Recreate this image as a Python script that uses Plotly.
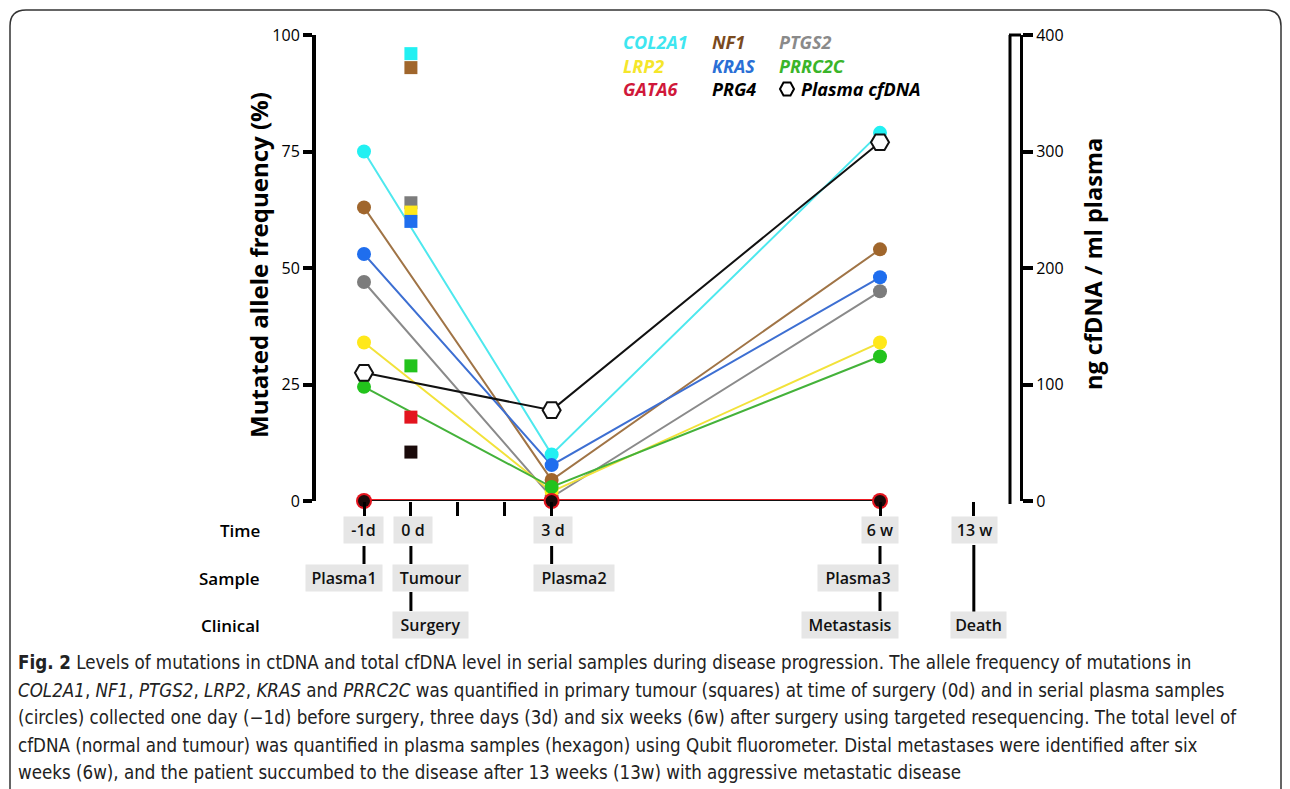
import plotly.graph_objects as go

W, H = 1290, 789

# ---------------- data ----------------
genes = ["COL2A1", "NF1", "PTGS2", "LRP2", "KRAS", "PRRC2C", "GATA6", "PRG4"]
marker_colors = ["#22f0f2", "#a0662c", "#7c7c7c", "#ffe81a", "#1f6eee", "#22c31c", "#e3141e", "#1a0a0a"]
line_colors = ["#4ee8ee", "#a07446", "#8a8a8a", "#f2e23a", "#3d6fd2", "#44b23a", "#ee1c24", "#111111"]
text_colors = ["#3ee6f0", "#7a4a1e", "#8a8a8a", "#f5e62a", "#2a6fd6", "#3ab52a", "#d0183a", "#000000"]

plasma_x = [-1, 3, 10]          # -1d, 3d, 6w (display position)
plasma_vals = {
    "COL2A1": [75, 10, 79],
    "NF1": [63, 4.5, 54],
    "PTGS2": [47, 0.8, 45],
    "LRP2": [34, 2, 34],
    "KRAS": [53, 7.7, 48],
    "PRRC2C": [24.5, 3, 31],
    "GATA6": [0, 0, 0],
    "PRG4": [0, 0, 0],
}
tumour_x = 0
tumour_vals = {
    "COL2A1": 96, "NF1": 93, "PTGS2": 64, "LRP2": 62,
    "KRAS": 60, "PRRC2C": 29, "GATA6": 18, "PRG4": 10.5,
}
cfdna_vals = [110, 78, 308]

time_labels = ["-1d", "0 d", "3 d", "6 w", "13 w"]
time_x = [-1, 0, 3, 10, 12]
sample_labels = ["Plasma1", "Tumour", "Plasma2", "Plasma3"]
sample_x = [-1, 0, 3, 10]
clinical_labels = ["Surgery", "Metastasis", "Death"]
clinical_x = [0, 10, 12]
minor_tick_x = [1, 2]

left_ticks = [0, 25, 50, 75, 100]
right_ticks = [0, 100, 200, 300, 400]

caption_lines = [
    "<b>Fig. 2</b> Levels of mutations in ctDNA and total cfDNA level in serial samples during disease progression. The allele frequency of mutations in",
    "<i>COL2A1</i>, <i>NF1</i>, <i>PTGS2</i>, <i>LRP2</i>, <i>KRAS</i> and <i>PRRC2C</i> was quantified in primary tumour (squares) at time of surgery (0d) and in serial plasma samples",
    "(circles) collected one day (\u22121d) before surgery, three days (3d) and six weeks (6w) after surgery using targeted resequencing. The total level of",
    "cfDNA (normal and tumour) was quantified in plasma samples (hexagon) using Qubit fluorometer. Distal metastases were identified after six",
    "weeks (6w), and the patient succumbed to the disease after 13 weeks (13w) with aggressive metastatic disease",
]

# ---------------- geometry helpers ----------------
PAGE_OFF = 8   # the page body margin shifts the figure by 8 px

def px(x):
    return (x - PAGE_OFF) / W

def py(y):
    return 1 - (y - PAGE_OFF) / H

X_LEFT, X_RIGHT = 316, 1020
Y_TOP, Y_BOT = 35, 501
unit = (880 - 364) / 11.0
x_min = -1 - (364 - X_LEFT) / unit
x_max = -1 + (X_RIGHT - 364) / unit
AX_OFF = -0.6   # baseline drawn slightly under the zero line

FONT = "Open Sans, Noto Sans, sans-serif"

fig = go.Figure()

# lines for plasma samples
for g, lc in zip(genes, line_colors):
    fig.add_trace(go.Scatter(
        x=plasma_x, y=plasma_vals[g], mode="lines",
        line=dict(color=lc, width=4 if g == "GATA6" else 2),
        showlegend=False, hoverinfo="skip", cliponaxis=False))

fig.add_trace(go.Scatter(
    x=plasma_x, y=cfdna_vals, mode="lines", yaxis="y2",
    line=dict(color="#111111", width=2), showlegend=False, cliponaxis=False))

# plasma circles
for g, mc in zip(genes, marker_colors):
    size = 16 if g == "GATA6" else 14
    if g == "PRG4":
        size = 12
    fig.add_trace(go.Scatter(
        x=plasma_x, y=plasma_vals[g], mode="markers",
        marker=dict(symbol="circle", size=size, color=mc, line=dict(width=0)),
        showlegend=False, name=g, cliponaxis=False))

# tumour squares
for g, mc in zip(genes, marker_colors):
    fig.add_trace(go.Scatter(
        x=[tumour_x], y=[tumour_vals[g]], mode="markers",
        marker=dict(symbol="square", size=13, color=mc, line=dict(width=0)),
        showlegend=False, name=g, cliponaxis=False))

# cfDNA hexagons
fig.add_trace(go.Scatter(
    x=plasma_x, y=cfdna_vals, mode="markers", yaxis="y2",
    marker=dict(symbol="hexagon2", size=18, color="white", line=dict(color="#111111", width=2)),
    showlegend=False, name="Plasma cfDNA", cliponaxis=False))

shapes = []
annotations = []

# broken x-axis baseline
segments = [
    (x_min, (657 - 364) / unit - 1, "solid"),
    ((667 - 364) / unit - 1, (765 - 364) / unit - 1, "8px,12px"),
    ((775 - 364) / unit - 1, (888 - 364) / unit - 1, "solid"),
    ((893 - 364) / unit - 1, (942 - 364) / unit - 1, "8px,12px"),
    ((952 - 364) / unit - 1, x_max, "solid"),
]
for a, b, d in segments:
    shapes.append(dict(type="line", xref="x", yref="y", x0=a, x1=b, y0=AX_OFF, y1=AX_OFF,
                       line=dict(color="black", width=5, dash=d), layer="below"))

# double right axis: inner line + top connector
shapes.append(dict(type="line", xref="paper", yref="paper",
                   x0=px(1010), x1=px(1010), y0=py(Y_BOT + 3), y1=py(Y_TOP),
                   line=dict(color="black", width=3)))
shapes.append(dict(type="line", xref="paper", yref="paper",
                   x0=px(1009), x1=px(1021), y0=py(Y_TOP), y1=py(Y_TOP),
                   line=dict(color="black", width=3)))

# timeline connectors
for xv in sample_x:
    shapes.append(dict(type="line", xref="x", yref="paper", x0=xv, x1=xv,
                       y0=py(546), y1=py(564), line=dict(color="black", width=3)))
for xv in [0, 10]:
    shapes.append(dict(type="line", xref="x", yref="paper", x0=xv, x1=xv,
                       y0=py(592), y1=py(611), line=dict(color="black", width=3)))
shapes.append(dict(type="line", xref="x", yref="paper", x0=12, x1=12,
                   y0=py(545), y1=py(612), line=dict(color="black", width=3)))

# outer rounded frame
r = 16
x0f, x1f, y0f = 10, 1281, 10
path = (f"M {px(x0f)},{py(H + 30)} L {px(x0f)},{py(y0f + r)} "
        f"Q {px(x0f)},{py(y0f)} {px(x0f + r)},{py(y0f)} "
        f"L {px(x1f - r)},{py(y0f)} Q {px(x1f)},{py(y0f)} {px(x1f)},{py(y0f + r)} "
        f"L {px(x1f)},{py(H + 30)}")
shapes.append(dict(type="path", xref="paper", yref="paper", path=path,
                   line=dict(color="#333333", width=1.5)))

# legend
leg_cols = [621, 710, 777]
leg_rows = [42, 66, 89]
for i, (g, tc) in enumerate(zip(genes, text_colors)):
    cx = leg_cols[i % 3]
    cy = leg_rows[i // 3]
    annotations.append(dict(xref="paper", yref="paper", x=px(cx), y=py(cy),
                            xanchor="left", yanchor="middle", showarrow=False,
                            text=f"<b><i>{g}</i></b>",
                            font=dict(family=FONT, size=18, color=tc)))
hx, hy = 787, 89
shapes.append(dict(type="path", xref="paper", yref="paper", xsizemode="pixel",
                   ysizemode="pixel", xanchor=px(hx), yanchor=py(hy),
                   path="M -7,0 L -3.5,6.5 L 3.5,6.5 L 7,0 L 3.5,-6.5 L -3.5,-6.5 Z",
                   line=dict(color="black", width=2), fillcolor="white"))
annotations.append(dict(xref="paper", yref="paper", x=px(799), y=py(89),
                        xanchor="left", yanchor="middle", showarrow=False,
                        text="<b><i>Plasma cfDNA</i></b>",
                        font=dict(family=FONT, size=18, color="black")))

# axis titles
annotations.append(dict(xref="paper", yref="paper", x=px(258), y=py(265),
                        xanchor="center", yanchor="middle",
                        textangle=-90, showarrow=False,
                        text="<b>Mutated allele frequency (%)</b>",
                        font=dict(family=FONT, size=24, color="black")))
annotations.append(dict(xref="paper", yref="paper", x=px(1093), y=py(264),
                        xanchor="center", yanchor="middle",
                        textangle=-90, showarrow=False,
                        text="<b>ng cfDNA / ml plasma</b>",
                        font=dict(family=FONT, size=23.5, color="black")))

# timeline row labels
for lab, yy in zip(["Time", "Sample", "Clinical"], [530, 578, 625]):
    annotations.append(dict(xref="paper", yref="paper", x=px(262), y=py(yy),
                            xanchor="right", yanchor="middle", showarrow=False,
                            text=lab, font=dict(family=FONT, size=17, color="black", weight=600)))

BOX = "#e6e6e6"
def box(label, xv, yy, shift, width):
    annotations.append(dict(xref="x", yref="paper", x=xv, y=py(yy), xshift=shift,
                            xanchor="center", yanchor="middle", showarrow=False,
                            text=label, bgcolor=BOX, borderpad=3, width=width - 6, height=20,
                            font=dict(family=FONT, size=16, color="#111111", weight=600)))

time_shift = [-1, 2, 1, 0, 1]
time_w = [39, 38, 38, 36, 45]
for lab, xv, s, w in zip(time_labels, time_x, time_shift, time_w):
    box(lab, xv, 530, s, w)
sample_shift = [-20, 20, 22, -22]
sample_w = [76, 75, 80, 80]
for lab, xv, s, w in zip(sample_labels, sample_x, sample_shift, sample_w):
    box(lab, xv, 578, s, w)
clin_shift = [20, -30, 5]
clin_w = [75, 96, 55]
for lab, xv, s, w in zip(clinical_labels, clinical_x, clin_shift, clin_w):
    box(lab, xv, 625, s, w)

# caption
cap_y = [662, 690, 717, 745, 772]
for line, yy in zip(caption_lines, cap_y):
    annotations.append(dict(xref="paper", yref="paper", x=px(16), y=py(yy),
                            xanchor="left", yanchor="middle", showarrow=False,
                            text=line, align="left",
                            font=dict(family="Liberation Sans Narrow, DejaVu Sans Condensed, sans-serif",
                                      size=18.6, color="#222222")))

axis_common = dict(automargin=False, fixedrange=True, showgrid=False, zeroline=False)

fig.update_layout(
    width=W, height=H,
    margin=dict(l=0, r=0, t=0, b=0, pad=0, autoexpand=False),
    paper_bgcolor="white", plot_bgcolor="white",
    showlegend=False,
    xaxis=dict(domain=[px(X_LEFT), px(X_RIGHT)], range=[x_min, x_max],
               showline=False,
               tickmode="array", tickvals=time_x + minor_tick_x,
               ticks="outside", ticklen=14, tickwidth=3, tickcolor="black",
               showticklabels=False, **axis_common),
    yaxis=dict(domain=[py(Y_BOT), py(Y_TOP)], range=[0, 100],
               showline=True, linewidth=4, linecolor="black",
               tickmode="array", tickvals=left_ticks,
               ticks="outside", ticklen=9, tickwidth=4, tickcolor="black",
               tickfont=dict(family=FONT, size=16, color="black"), **axis_common),
    yaxis2=dict(overlaying="y", side="right", range=[0, 400], anchor="x",
                showline=True, linewidth=3, linecolor="black",
                tickmode="array", tickvals=right_ticks,
                ticks="outside", ticklen=10, tickwidth=4, tickcolor="black",
                tickfont=dict(family=FONT, size=16, color="black"), **axis_common),
    shapes=shapes,
    annotations=annotations,
)

fig.write_html("out.html")
